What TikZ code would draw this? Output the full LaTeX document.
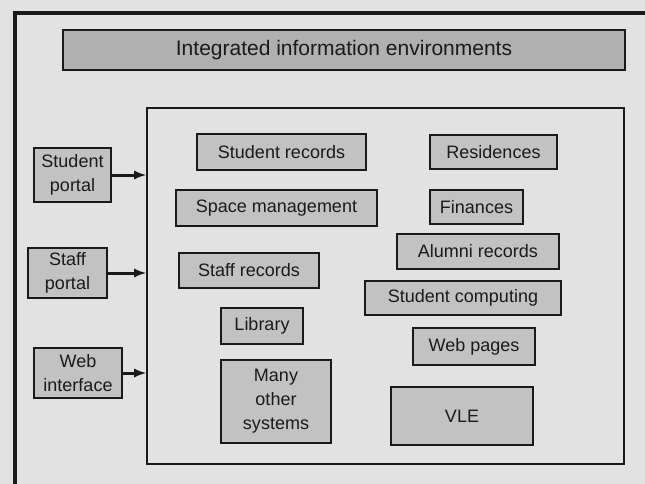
\documentclass[tikz,border=0pt]{standalone}
\usepackage{fontspec}
\setmainfont{Liberation Sans}
\definecolor{paper}{HTML}{E2E2E2}
\definecolor{boxgray}{HTML}{C2C2C2}
\definecolor{titlegray}{HTML}{B0B0B0}
\definecolor{ink}{HTML}{1A1A1A}

\begin{document}
\begin{tikzpicture}[x=1pt,y=-1pt,
  sysbox/.style={draw=ink,line width=2pt,fill=boxgray,inner sep=0pt,align=center,text=ink,
    font=\fontsize{18}{24}\selectfont},
  portal/.style={sysbox},
  feed/.style={draw=ink,line width=3pt,-latex}]
\useasboundingbox (0,0) rectangle (645,484);
\fill[paper] (0,0) rectangle (645,484);
% outer frame
\draw[ink,line width=4pt] (15,486) -- (15,13) -- (647,13);
\node[sysbox,fill=titlegray,minimum width=562pt,minimum height=40pt,font=\fontsize{21}{24}\selectfont] (title) at (344,50) {Integrated information environments};
\node[draw=ink,line width=2pt,minimum width=477pt,minimum height=356pt] (core) at (385.5,286) {};
% portals
\node[portal,minimum width=77pt,minimum height=54pt] (sportal) at (72.5,175) {Student\\portal};
\node[portal,minimum width=79pt,minimum height=50pt] (stportal) at (67.5,273) {Staff\\portal};
\node[portal,minimum width=88pt,minimum height=50pt] (webif) at (78,373) {Web\\interface};
\draw[feed] (sportal.east) -- (sportal.east -| core.west);
\draw[feed] (stportal.east) -- (stportal.east -| core.west);
\draw[feed] (webif.east) -- (webif.east -| core.west);
% systems, left column
\node[sysbox,minimum width=169pt,minimum height=36pt] (srec) at (281.5,152) {Student records};
\node[sysbox,minimum width=201pt,minimum height=36pt] (space) at (276.5,208) {Space management};
\node[sysbox,minimum width=140pt,minimum height=35pt] (staff) at (249,270.5) {Staff records};
\node[sysbox,minimum width=82pt,minimum height=36pt] (lib) at (262,326) {Library};
\node[sysbox,minimum width=110pt,minimum height=83pt] (many) at (276,401.5) {Many\\other\\systems};
% systems, right column
\node[sysbox,minimum width=127pt,minimum height=34pt] (res) at (493.5,152) {Residences};
\node[sysbox,minimum width=93pt,minimum height=34pt] (fin) at (476.5,207) {Finances};
\node[sysbox,minimum width=162pt,minimum height=35pt] (alum) at (478,251.5) {Alumni records};
\node[sysbox,minimum width=196pt,minimum height=34pt] (scomp) at (463,298) {Student computing};
\node[sysbox,minimum width=122pt,minimum height=37pt] (webp) at (474,346.5) {Web pages};
\node[sysbox,minimum width=142pt,minimum height=58pt] (vle) at (462,416) {VLE};
\end{tikzpicture}
\end{document}
